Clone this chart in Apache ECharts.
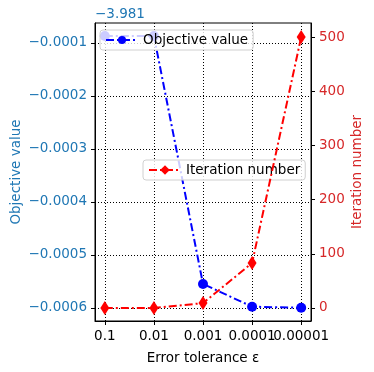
<!DOCTYPE html>
<html>
<head>
<meta charset="utf-8">
<script src="https://cdn.jsdelivr.net/npm/echarts@6/dist/echarts.min.js"></script>
<style>
  html, body { margin: 0; padding: 0; background: #fff; }
  #chart { width: 374px; height: 372px; }
</style>
</head>
<body>
<div id="chart"></div>
<script>
// x categories (error tolerance)
const tolerances = ['0.1', '0.01', '0.001', '0.0001', '0.00001']
// objective value = offset + delta
const objOffset = -3.981
const objDelta = [-0.0000868, -0.0000868, -0.000555, -0.000598, -0.0006]
const iterations = [0, 0, 9, 83, 500]
const leftTicks = [-0.0006, -0.0005, -0.0004, -0.0003, -0.0002, -0.0001]
const rightTicks = [0, 100, 200, 300, 400, 500]

const blue = '#1f77b4'
const red = '#d62728'
const font = 'DejaVu Sans'
const fs = 13.5
const idx = tolerances.map((t, i) => i)

const fmtMinus = v => {
  const s = Number(v).toFixed(4)
  return s.replace('-', '\u2212')
}

// labels split over two x axes so adjacent ones are not hidden as overlapping
const xBase = (vals, show) => ({
  type: 'value', min: -0.2, max: 4.2, position: 'bottom',
  axisLine: { show: show, onZero: false, lineStyle: { color: '#000' } },
  axisTick: { show: show, customValues: idx, length: 4, lineStyle: { color: '#000' } },
  axisLabel: {
    customValues: vals, color: '#000', fontSize: fs, margin: 8, hideOverlap: false,
    formatter: v => tolerances[Math.round(v)]
  },
  splitLine: { show: show, lineStyle: { color: '#000', type: [1, 2] } }
})

const x0 = xBase(idx.filter(i => i % 2 === 0), true)
x0.name = 'Error tolerance \u03b5'
x0.nameLocation = 'middle'
x0.nameGap = 30
x0.nameMoveOverlap = false
x0.nameTextStyle = { fontFamily: font, fontSize: fs, color: '#000' }
const x1 = xBase(idx.filter(i => i % 2 === 1), false)

const chart = echarts.init(document.getElementById('chart'))
chart.setOption({
  animation: false,
  textStyle: { fontFamily: font },
  grid: {
    left: 95, right: 63, top: 23, bottom: 51,
    outerBoundsMode: 'none', containLabel: false,
    show: true, borderColor: '#000', borderWidth: 1
  },
  graphic: [{
    type: 'text', left: 95, top: 7,
    style: { text: fmtMinus(objOffset).slice(0, 6), fill: blue, font: fs + 'px "DejaVu Sans"' }
  }],
  legend: [
    {
      data: ['Objective value'], left: 100, top: 30,
      backgroundColor: 'rgba(255,255,255,0.8)', borderColor: '#d0d0d0', borderWidth: 1, borderRadius: 3,
      padding: [3, 5, 3, 5], itemWidth: 32, itemHeight: 10,
      textStyle: { fontFamily: font, fontSize: fs, color: '#000' }
    },
    {
      data: ['Iteration number'], left: 143, top: 160,
      backgroundColor: 'rgba(255,255,255,0.8)', borderColor: '#d0d0d0', borderWidth: 1, borderRadius: 3,
      padding: [3, 5, 3, 5], itemWidth: 32, itemHeight: 12,
      textStyle: { fontFamily: font, fontSize: fs, color: '#000' }
    }
  ],
  xAxis: [x0, x1],
  yAxis: [
    {
      type: 'value', position: 'left', min: -0.000625, max: -0.0000623,
      name: 'Objective value', nameLocation: 'middle', nameGap: 72, nameRotate: 90,
      nameMoveOverlap: false,
      nameTextStyle: { fontFamily: font, fontSize: fs, color: blue },
      axisLine: { show: true, onZero: false, lineStyle: { color: '#000' } },
      axisTick: { show: true, customValues: leftTicks, length: 4, lineStyle: { color: '#000' } },
      axisLabel: { customValues: leftTicks, color: blue, fontSize: fs, margin: 8, formatter: fmtMinus },
      splitLine: { show: true, lineStyle: { color: '#000', type: [1, 2] } }
    },
    {
      type: 'value', position: 'right', min: -24, max: 526,
      name: 'Iteration number', nameLocation: 'middle', nameGap: 39, nameRotate: 90,
      nameMoveOverlap: false,
      nameTextStyle: { fontFamily: font, fontSize: fs, color: red },
      axisLine: { show: true, onZero: false, lineStyle: { color: '#000' } },
      axisTick: { show: true, customValues: rightTicks, length: 4, lineStyle: { color: '#000' } },
      axisLabel: { customValues: rightTicks, color: red, fontSize: fs, margin: 8 },
      splitLine: { show: false }
    }
  ],
  series: [
    {
      name: 'Objective value', type: 'line', xAxisIndex: 0, yAxisIndex: 0,
      data: objDelta.map((v, i) => [i, v]),
      symbol: 'circle', symbolSize: 10,
      itemStyle: { color: '#0000ff' },
      lineStyle: { color: '#0000ff', width: 2, type: [8, 3, 2, 3] },
      z: 3
    },
    {
      name: 'Iteration number', type: 'line', xAxisIndex: 0, yAxisIndex: 1,
      data: iterations.map((v, i) => [i, v]),
      symbol: 'diamond', symbolSize: [9, 14],
      itemStyle: { color: '#ff0000' },
      lineStyle: { color: '#ff0000', width: 2, type: [8, 3, 2, 3] },
      z: 4
    }
  ]
})
</script>
</body>
</html>
